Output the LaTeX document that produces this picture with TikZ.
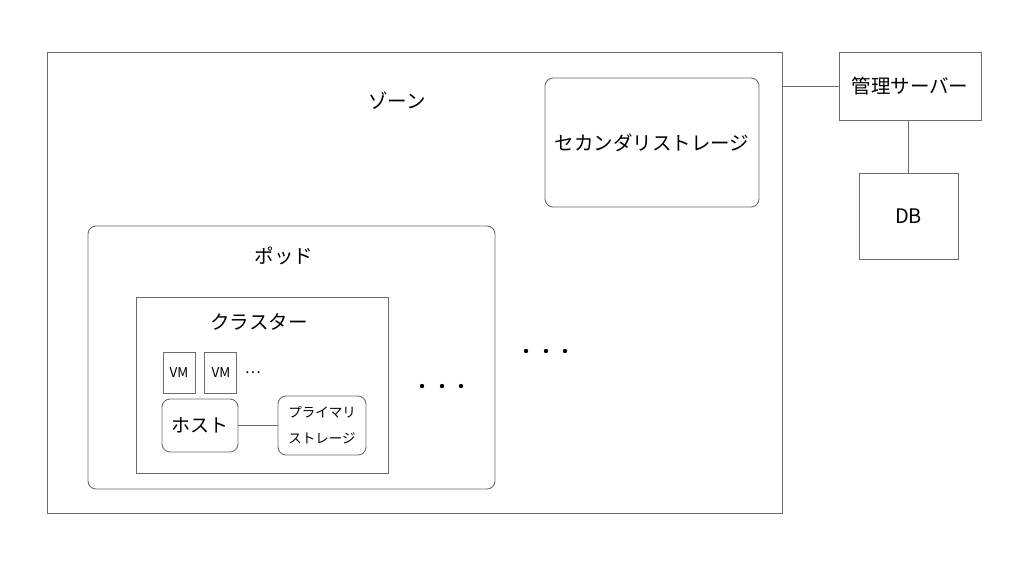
\documentclass[tikz,border=0pt]{standalone}
\usepackage{fontspec}
\setmainfont{Noto Sans CJK JP}
\usetikzlibrary{positioning}

\tikzset{
  box/.style={draw=gray!85!black, line width=0.9pt, inner sep=0pt},
  roundbox/.style={box, rounded corners=8pt},
  big/.style={font=\fontsize{19.5}{23}\selectfont},
  small/.style={font=\fontsize{13.5}{26}\selectfont},
  link/.style={draw=gray!85!black, line width=0.9pt}
}

\begin{document}
\begin{tikzpicture}[x=1pt,y=-1pt]
    \useasboundingbox (0,0) rectangle (1024,568);

    % ゾーン
    \node[box, minimum width=735pt, minimum height=461pt] (zone) at (414.5,282.5) {};
    \node[big] (zonelabel) at (397,101) {ゾーン};

    % セカンダリストレージ
    \node[roundbox, big, minimum width=214pt, minimum height=129pt] (secstore) at (652,142.5) {セカンダリストレージ};

    % ポッド
    \node[roundbox, minimum width=407pt, minimum height=263pt] (pod) at (291.5,357.5) {};
    \node[big] (podlabel) at (284,256) {ポッド};

    % クラスター
    \node[box, minimum width=252pt, minimum height=176pt] (cluster) at (262,385) {};
    \node[big] (clusterlabel) at (259,322) {クラスター};

    % VM
    \node[box, font=\fontsize{13.5}{15}\selectfont, minimum width=32pt, minimum height=41pt] (vma) at (179,372.5) {VM};
    \node[box, font=\fontsize{13.5}{15}\selectfont, minimum width=32pt, minimum height=41pt, right=9pt of vma] (vmb) {VM};
    \node[font=\fontsize{15}{15}\selectfont, right=4pt of vmb] (vmdots) {…};

    % ホストとプライマリストレージ
    \node[roundbox, font=\fontsize{19}{22}\selectfont, minimum width=76pt, minimum height=53pt] (host) at (200,425.5) {ホスト};
    \node[roundbox, small, align=center, minimum width=88pt, minimum height=59pt] (primstore) at (322,425.5) {プライマリ\\ストレージ};
    \draw[link] (host) -- (primstore);

    % 省略の点
    \foreach \x in {422,442,461} \fill (\x,386) circle (2.2pt);
    \foreach \x in {526,546,565} \fill (\x,351) circle (2.2pt);

    % 管理サーバーとDB
    \node[box, big, minimum width=142pt, minimum height=68pt] (mgmt) at (910,86) {管理サーバー};
    \node[box, font=\fontsize{20}{22}\selectfont, minimum width=99pt, minimum height=86pt] (db) at (908.5,216) {DB};
    \draw[link] (mgmt.west) -- (mgmt.west -| zone.east);
    \draw[link] (db.north) -- (db.north |- mgmt.south);
\end{tikzpicture}
\end{document}
